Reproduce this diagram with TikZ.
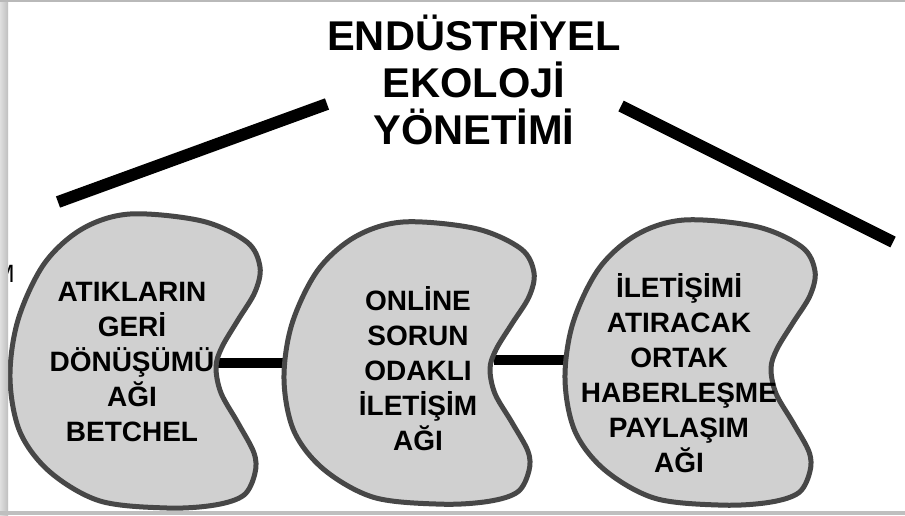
\documentclass[tikz,border=0pt]{standalone}
\usepackage{fontspec}
\setmainfont{Liberation Sans}
\usetikzlibrary{positioning}
\definecolor{fasulyerenk}{HTML}{D0D0D0}
\definecolor{kenar}{HTML}{474747}

% fasulye (böbrek) biçimi: sol üst köşe ve dikey ölçek
\newcommand{\fasulyeciz}[3]{%
  \draw[fasulye, shift={(#1,#2)}, yscale=#3] plot[smooth cycle, tension=0.55] coordinates {
    (122,2) (194,9) (239,30) (252,55) (247,80) (230,108) (214,135) (208,155)
    (213,181) (230,211) (246,241) (247,261) (236,283) (207,293) (159,296)
    (92,289) (42,260) (12,220) (2,166) (10,108) (36,52) (74,17)};}

\begin{document}
\begin{tikzpicture}[x=0.5pt, y=-0.5pt,
  cizgi/.style={line width=6pt},
  bag/.style={line width=5pt},
  fasulye/.style={fill=fasulyerenk, draw=kenar, line width=2.5pt},
  yazi/.style={align=center, font=\bfseries\fontsize{14}{17.5}\selectfont}]
\useasboundingbox (0,0) rectangle (905,515);
\fill[white] (0,0) rectangle (905,515);

% Başlık
\node[align=center, font=\bfseries\fontsize{20.8}{23.5}\selectfont] (baslik) at (474,80)
  {ENDÜSTRİYEL\\EKOLOJİ\\YÖNETİMİ};
\coordinate (sol1) at (58,202);
\coordinate (sol2) at (327,104);
\coordinate (sag1) at (621,106);
\coordinate (sag2) at (893,242);
\draw[cizgi] (sol1) -- (sol2);
\draw[cizgi] (sag1) -- (sag2);

% Bağlantılar
\coordinate (k1sag) at (216,363);
\coordinate (k2sol) at (286,363);
\coordinate (k2sag) at (494,360);
\coordinate (k3sol) at (567,360);
\draw[bag] (k1sag) -- (k2sol);
\draw[bag] (k2sag) -- (k3sol);

% Fasulyeler
\fasulyeciz{8}{212}{1}
\fasulyeciz{282}{220}{0.96}
\fasulyeciz{563}{218}{0.97}

\node[yazi] (metin1) at (132,362) {ATIKLARIN\\GERİ\\DÖNÜŞÜMÜ\\AĞI\\BETCHEL};
\node[yazi] (metin2) at (418,369) {ONLİNE\\SORUN\\ODAKLI\\İLETİŞİM\\AĞI};
\node[yazi] (metin3) at (679,373) {İLETİŞİMİ\\ATIRACAK\\ORTAK\\HABERLEŞME\\PAYLAŞIM\\AĞI};

% Kenar gölgeleri
\node[anchor=east, inner sep=0pt, font=\fontsize{12.5}{12.5}\selectfont] (kesik) at (15,274) {M};
\shade[left color=gray!25, right color=gray!50] (0,0) rectangle (8,515);
\fill[gray!55] (0,0) rectangle (905,1.5);
\fill[gray!50] (0,511) rectangle (905,515);
\end{tikzpicture}
\end{document}
